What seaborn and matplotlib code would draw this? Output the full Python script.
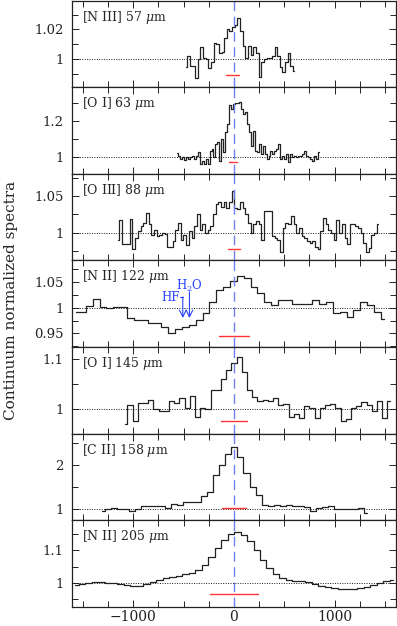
import numpy as np
import matplotlib
matplotlib.use("Agg")
import matplotlib.pyplot as plt
from matplotlib.ticker import MultipleLocator, FixedLocator, FuncFormatter
import seaborn as sns

# --- data (velocity in km/s, flux / continuum) ---
line_labels = ["[N III] 57 $\\mu$m", "[O I] 63 $\\mu$m", "[O III] 88 $\\mu$m",
               "[N II] 122 $\\mu$m", "[O I] 145 $\\mu$m", "[C II] 158 $\\mu$m",
               "[N II] 205 $\\mu$m"]

# velocity coverage of each spectrum (first edge, last edge)
v_ranges = [(-492, 614), (-574, 851), (-1168, 1445), (-1607, 1528),
            (-1109, 1577), (-1343, 1353), (-1607, 1610)]

nIII_57 = [0.995, 1.002, 0.9955, 0.9955, 0.987, 1.000, 1.008, 1.001, 1.000, 0.994,
           0.998, 1.011, 1.010, 1.004, 1.005, 1.014, 1.020, 1.019, 1.0215, 1.023,
           1.028, 1.019, 1.009, 1.001, 1.009, 1.0025, 1.0085, 1.004, 0.988, 0.998,
           1.000, 1.001, 1.001, 1.002, 1.0085, 1.002, 0.9945, 0.9915, 0.998, 1.004,
           0.9955, 0.992]

oI_63 = [1.019, 1.006, 0.987, 0.996, 0.983, 1.000, 0.987, 0.996, 1.006, 0.987,
         1.006, 1.025, 0.958, 0.977, 0.962, 0.987, 0.958, 1.034, 1.043, 0.996,
         1.072, 1.081, 0.974, 1.100, 1.025, 1.138, 1.185, 1.289, 1.270, 1.298,
         1.302, 1.302, 1.308, 1.270, 1.242, 1.251, 1.185, 1.138, 1.062, 1.143,
         1.034, 1.025, 1.072, 1.015, 1.062, 1.015, 0.987, 1.006, 1.034, 1.015,
         1.034, 1.043, 1.072, 0.987, 1.006, 0.987, 1.015, 0.968, 1.015, 0.996,
         1.006, 0.996, 1.004, 1.006, 1.015, 1.034, 1.006, 0.996, 0.987, 0.977,
         1.006, 0.987, 1.025]

oIII_88 = [0.990, 1.0165, 0.984, 0.984, 0.984, 1.018, 0.977, 0.993, 1.002, 1.009,
           1.013, 1.027, 1.011, 0.997, 1.004, 0.996, 0.997, 1.000, 0.998, 0.980,
           0.980, 0.988, 1.004, 1.013, 0.990, 0.997, 0.983, 1.002, 0.993, 1.009,
           1.025, 1.003, 1.012, 1.000, 1.004, 1.009, 1.025, 1.039, 1.041, 1.035,
           1.041, 1.033, 1.041, 1.057, 1.034, 1.032, 1.041, 1.034, 1.025, 1.013,
           1.000, 1.011, 1.016, 1.011, 0.990, 1.029, 1.029, 1.029, 0.995, 0.993,
           0.990, 0.973, 1.006, 1.013, 1.011, 1.022, 1.011, 1.000, 1.006, 0.995,
           0.993, 0.988, 0.986, 0.988, 0.981, 0.978, 1.002, 1.020, 1.011, 1.003,
           1.000, 0.990, 1.017, 1.000, 1.011, 0.993, 0.984, 1.012, 1.011, 1.009,
           1.006, 1.000, 0.986, 0.974, 0.979, 0.997, 1.000, 1.011]

nII_122 = [0.992, 0.992, 1.003, 1.017, 1.002, 1.000, 1.002, 1.002, 0.981, 0.976,
           0.976, 0.971, 0.971, 0.963, 0.951, 0.958, 0.963, 0.967, 0.976, 0.989,
           1.012, 1.035, 1.041, 1.053, 1.061, 1.058, 1.041, 1.028, 1.012, 1.005,
           1.015, 1.015, 1.008, 1.007, 1.008, 1.016, 1.008, 1.012, 0.989, 0.992,
           0.982, 0.995, 1.012, 1.005, 0.992, 0.979]

oI_145 = [0.969, 1.007, 0.976, 1.012, 1.012, 1.018, 0.999, 0.995, 0.995, 1.015,
          1.012, 1.022, 1.002, 1.025, 0.984, 1.002, 0.999, 1.038, 1.038, 1.059,
          1.077, 1.092, 1.103, 1.074, 1.038, 1.023, 1.015, 1.018, 1.015, 1.022,
          1.008, 1.010, 0.984, 0.989, 0.981, 1.005, 1.002, 0.981, 1.002, 1.008,
          1.010, 1.002, 0.975, 0.979, 1.002, 1.005, 1.013, 1.008, 0.995, 1.015,
          0.982, 1.015]

cII_158 = [0.94, 0.985, 1.023, 1.0, 0.985, 0.955, 1.0, 1.06, 1.06, 1.06,
           1.07, 1.015, 1.10, 1.09, 1.14, 1.15, 1.14, 1.29, 1.39, 1.76,
           2.0, 2.25, 2.40, 2.17, 1.82, 1.49, 1.30, 1.09, 1.07, 1.076,
           1.06, 1.09, 1.06, 1.05, 1.04, 0.94, 1.015, 1.04, 1.06, 1.0,
           1.0, 0.985, 1.0, 1.015, 0.90]

nII_205 = [0.994, 0.998, 1.000, 1.002, 1.002, 1.001, 0.999, 0.996, 0.993, 0.991,
           0.992, 0.996, 1.003, 1.009, 1.014, 1.019, 1.022, 1.026, 1.031, 1.041,
           1.055, 1.080, 1.108, 1.130, 1.148, 1.154, 1.147, 1.128, 1.100, 1.070,
           1.045, 1.027, 1.015, 1.010, 1.007, 1.005, 1.002, 0.997, 0.992, 0.988,
           0.985, 0.983, 0.982, 0.982, 0.984, 0.988, 0.994, 1.000, 1.006, 1.009]

spectra = [nIII_57, oI_63, oIII_88, nII_122, oI_145, cII_158, nII_205]

# red bars (velocity resolution) : start, end, level
res_lo = [-80, -47, -62, -149, -129, -116, -235]
res_hi = [55, 33, 59, 149, 125, 116, 235]
res_y = [0.989, 0.972, 0.977, 0.9445, 0.975, 1.02, 0.966]

# axis settings per panel
y_lims = [(0.981, 1.0395), (0.904, 1.391), (0.962, 1.080), (0.9235, 1.092),
          (0.950, 1.123), (0.734, 2.71), (0.927, 1.191)]
y_major = [[1, 1.02], [1, 1.2], [1, 1.05], [0.95, 1, 1.05], [1, 1.1], [1, 2], [1, 1.1]]
y_minor = [0.01, 0.1, 0.025, 0.025, 0.05, 0.5, 0.05]

# absorption markers in the 122 micron panel
abs_names = ["HF", "H$_2$O"]
abs_vel = [-508, -442]

sns.set_theme(style="ticks")
plt.rcParams["font.family"] = ["DejaVu Serif"]
plt.rcParams["mathtext.fontset"] = "dejavuserif"
plt.rcParams["xtick.direction"] = "in"
plt.rcParams["ytick.direction"] = "in"

fig, axes = plt.subplots(7, 1, figsize=(3.97, 6.26), dpi=100, sharex=True)
fig.subplots_adjust(left=0.181, right=0.998, top=0.999, bottom=0.0305, hspace=0)

blue = "#7080f0"
for i, ax in enumerate(axes):
    v0, v1 = v_ranges[i]
    flux = np.array(spectra[i])
    dv = (v1 - v0) / len(flux)
    vel = v0 + dv * (np.arange(len(flux)) + 0.5)
    sns.lineplot(x=vel, y=flux, ax=ax, estimator=None, sort=False,
                 drawstyle="steps-mid", color="#222222", lw=0.9)
    ax.axhline(1, color="k", ls=(0, (1, 1.5)), lw=0.7)
    ax.axvline(0, color=blue, ls=(0, (7, 4)), lw=1.0)
    ax.plot([res_lo[i], res_hi[i]], [res_y[i], res_y[i]], color="#ff3333", lw=1.0)
    ax.set_ylim(*y_lims[i])
    ax.set_xlim(-1610, 1612)
    ax.yaxis.set_major_locator(FixedLocator(y_major[i]))
    ax.yaxis.set_minor_locator(MultipleLocator(y_minor[i]))
    ax.yaxis.set_major_formatter(FuncFormatter(lambda y, p: f"{y:g}"))
    ax.xaxis.set_major_locator(MultipleLocator(1000))
    ax.xaxis.set_minor_locator(MultipleLocator(250))
    ax.tick_params(which="both", top=True, right=True, direction="in",
                   labelsize=9.5, width=0.7, colors="#222222")
    ax.tick_params(which="major", length=5)
    ax.tick_params(which="minor", length=4)
    ax.tick_params(axis="y", which="major", pad=6)
    for s in ax.spines.values():
        s.set_linewidth(0.9)
        s.set_color("#222222")
    ax.set_ylabel("")
    ax.text(0.032, 0.81, line_labels[i], transform=ax.transAxes,
            ha="left", va="center", fontsize=9)

# HF / H2O absorption markers
ax4 = axes[3]
absblue = "#2b45ff"
ax4.plot([abs_vel[0] - 25, abs_vel[0]], [1.0205, 1.0205], color=absblue, lw=0.8)
ax4.annotate("", xy=(abs_vel[0], 0.980), xytext=(abs_vel[0], 1.021),
             arrowprops=dict(arrowstyle="->", color=absblue, lw=0.8,
                             shrinkA=0, shrinkB=0))
ax4.annotate("", xy=(abs_vel[1], 0.980), xytext=(abs_vel[1], 1.031),
             arrowprops=dict(arrowstyle="->", color=absblue, lw=0.8,
                             shrinkA=0, shrinkB=0))
ax4.text(abs_vel[0] - 30, 1.020, abs_names[0], color=absblue, fontsize=8.5,
         ha="right", va="center")
ax4.text(abs_vel[1] + 5, 1.043, abs_names[1], color=absblue, fontsize=8.5,
         ha="center", va="center")

axes[-1].tick_params(axis="x", labelsize=10, pad=2)
fig.text(0.027, 0.52, "Continuum normalized spectra", rotation=90,
         ha="center", va="center", fontsize=11)

fig.savefig("out.png", dpi=100)
